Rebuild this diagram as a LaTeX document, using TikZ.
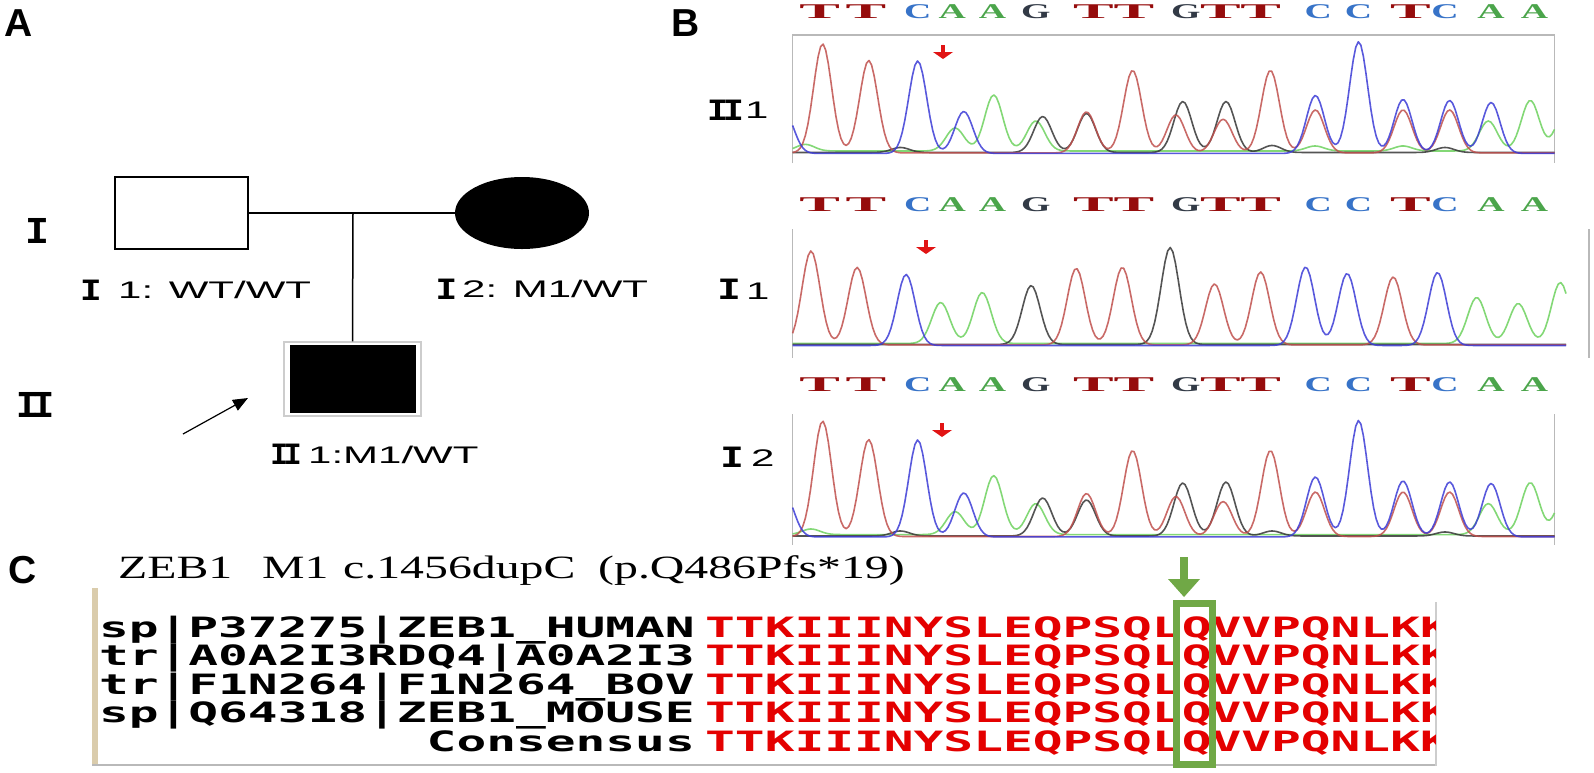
\documentclass[tikz,border=0pt]{standalone}
\usepackage{graphicx}
\usepackage{fontspec}
\setmainfont{Liberation Sans}
\newfontfamily\romf{Liberation Mono}
\newfontfamily\serf{Liberation Serif}
\newfontfamily\monof{DejaVu Sans Mono}
\usetikzlibrary{arrows.meta,shapes.geometric}
\definecolor{trR}{RGB}{192,80,77}
\definecolor{trB}{RGB}{60,60,215}
\definecolor{trG}{RGB}{110,210,95}
\definecolor{trK}{RGB}{55,55,55}
\definecolor{ntT}{RGB}{150,12,12}
\definecolor{ntC}{RGB}{55,115,200}
\definecolor{ntA}{RGB}{75,165,75}
\definecolor{ntG}{RGB}{50,58,70}
\definecolor{framec}{RGB}{185,185,185}
\definecolor{seqred}{RGB}{228,0,0}
\definecolor{qgreen}{RGB}{112,168,70}
\definecolor{tanc}{RGB}{218,204,172}
\definecolor{ltgray}{RGB}{205,205,205}
\definecolor{arrred}{RGB}{225,20,20}
\newcommand{\wid}[1]{\scalebox{1.75}[1]{#1}}
\newcommand{\sw}[1]{\scalebox{1.767}[1]{#1}}
\newcommand{\tw}[1]{\scalebox{1.47}[1]{#1}}
\newcommand{\RI}{I}
\newcommand{\RII}{I\kern-0.15em I}
\tikzset{
  declare function={gs(\gsu,\gsh)=\gsh*exp(-min(\gsu*\gsu/2,9));
                    pk(\pkx,\pkc,\pkh)=gs((\pkx-\pkc)/9,\pkh);},
  panel/.style={font=\fontsize{39}{39}\selectfont\bfseries, inner sep=0, anchor=base west},
  lab/.style={font=\fontsize{24}{24}\selectfont, inner sep=0, anchor=base west},
  numr/.style={font=\romf\bfseries\fontsize{31}{31}\selectfont, inner sep=0},
  gen/.style={font=\romf\bfseries\fontsize{38}{38}\selectfont, inner sep=0},
  ped/.style={line width=1.5pt},
  frameline/.style={draw=framec, line width=1.3pt},
  trace/.style={line width=1.6pt, opacity=0.85, line join=round},
  ntl/.style={font=\serf\bfseries\fontsize{21}{21}\selectfont, inner sep=0, anchor=base},
  seq/.style={font=\monof\bfseries\fontsize{28}{28}\selectfont, inner sep=0, anchor=base west, text=seqred},
  seqlab/.style={font=\monof\bfseries\fontsize{28}{28}\selectfont, inner sep=0, anchor=base east},
  ttl/.style={font=\serf\fontsize{32.5}{32.5}\selectfont, inner sep=0, anchor=base west},
}
\begin{document}
\begin{tikzpicture}[x=1pt,y=-1pt]
\useasboundingbox (0,0) rectangle (1594,772);
\fill[white] (0,0) rectangle (1594,772);

% panel letters
\node[panel] (pA) at (4,36) {A};
\node[panel] (pB) at (671,36) {B};
\node[panel] (pC) at (8,583) {C};

% ---------- Pedigree ----------
\node[draw, line width=2.5pt, minimum width=133pt, minimum height=72pt, inner sep=0] (p1) at (181.5,213) {};
\node[ellipse, fill=black, minimum width=134pt, minimum height=72pt, inner sep=0] (p2) at (522,213) {};
\node[draw=ltgray, line width=1.5pt, minimum width=137pt, minimum height=74pt, inner sep=0] (c1f) at (352.5,379) {};
\node[fill=black, minimum width=126pt, minimum height=68pt, inner sep=0] (c1) at (353,379) {};
\coordinate (m) at (353,213);
\draw[ped] (p1.east) -- (p2.west);
\draw[ped] (m) -- (c1f.north);
\coordinate (pa) at (183,434);
\coordinate (pb) at (248,398);
\draw[line width=1.2pt, -{Triangle[length=15pt,width=12pt]}] (pa) -- (pb);

\node[gen] (gI) at (37,231) {\scalebox{1.05}[1]{\RI}};
\node[gen] (gII) at (35.5,405) {\scalebox{0.97}[1]{\RII}};

\node[numr] (n11) at (91,290) {\scalebox{1.16}[1]{\RI}};
\node[lab] (t11) at (118,298) {\wid{1: WT/WT}};
\node[numr] (n12) at (446.5,289.5) {\scalebox{1.16}[1]{\RI}};
\node[lab] (t12) at (462,297) {\wid{2: M1/WT}};
\node[numr] (n21) at (286,454) {\scalebox{0.96}[1]{\RII}};
\node[lab] (t21) at (308,463) {\wid{1:M1/WT}};

% ---------- Panel B ----------
\node[numr] (bn1) at (725.5,110) {\scalebox{1.13}[1]{\RII}};
\node[lab] (bt1) at (745,118) {\wid{1}};
\node[numr] (bn2) at (729,289) {\scalebox{1.26}[1]{\RI}};
\node[lab] (bt2) at (746,299) {\wid{1}};
\node[numr] (bn3) at (732,457) {\scalebox{1.26}[1]{\RI}};
\node[lab] (bt3) at (751,466) {\wid{2}};

% base letters
\foreach \yy [count=\r] in {18,211,391}{
  \foreach \xx/\ll/\ss [count=\i] in {819.7/T/2.9, 865.8/T/2.9, 917.7/C/1.8, 952.2/A/1.8, 992.6/A/1.8, 1035.8/G/1.8, 1093.5/T/2.9, 1133.8/T/2.9, 1185.7/G/1.8, 1220.3/T/2.9, 1260.6/T/2.9, 1318.2/C/1.8, 1358.6/C/1.8, 1410.5/T/2.9, 1445/C/1.8, 1491.1/A/1.8, 1534.4/A/1.8}
    \node[ntl, text=nt\ll] (nt\r-\i) at (\xx,\yy) {\scalebox{\ss}[1]{\ll}};
}

% frames
\draw[frameline] (792.6,163) -- (792.6,35) -- (1554.5,35) -- (1554.5,163);
\draw[frameline] (792.6,229) -- (792.6,358);
\draw[frameline] (1589,229) -- (1589,358);
\draw[frameline] (792.6,414) -- (792.6,545);
\draw[frameline] (1554.5,414) -- (1554.5,545);

% chart II1
\draw[trace, trG] plot[domain=792.6:1554.5, samples=300] (\x,{151-pk(\x,805.3,6.6)-pk(\x,955.1,23)-pk(\x,993.7,56)-pk(\x,1035.8,30)-pk(\x,1315,5)-pk(\x,1403,5)-pk(\x,1488.3,30)-pk(\x,1530.3,50.6)-pk(\x,1565,40)});
\draw[trace, trK] plot[domain=792.6:1554.5, samples=300] (\x,{152.5-pk(\x,900.4,5)-pk(\x,1042.7,36)-pk(\x,1086.5,39)-pk(\x,1182.8,51)-pk(\x,1226,51)-pk(\x,1272.1,7)-pk(\x,1445,5)});
\draw[trace, trR] plot[domain=792.6:1554.5, samples=300] (\x,{153-pk(\x,822.6,109)-pk(\x,868.7,92.5)-pk(\x,1086.5,41)-pk(\x,1132.6,82.6)-pk(\x,1175.9,38)-pk(\x,1223.1,33.7)-pk(\x,1270.4,82.6)-pk(\x,1315.4,43)-pk(\x,1403,43)-pk(\x,1449.6,43)});
\draw[trace, trB] plot[domain=792.6:1554.5, samples=300] (\x,{153.5-pk(\x,785,40)-pk(\x,917.7,92.5)-pk(\x,963.8,42)-pk(\x,1315.4,58)-pk(\x,1358.6,111.7)-pk(\x,1403,54)-pk(\x,1449.6,53)-pk(\x,1491.1,51)});

% chart I1
\draw[trace, trG] plot[domain=792.6:1566, samples=300] (\x,{343.5-pk(\x,940.7,41)-pk(\x,982.2,51)-pk(\x,1476.7,46)-pk(\x,1518.2,40)-pk(\x,1560.3,61)});
\draw[trace, trK] plot[domain=792.6:1566, samples=300] (\x,{344.5-pk(\x,1031.2,59)-pk(\x,1170.1,97)});
\draw[trace, trR] plot[domain=792.6:1566, samples=300] (\x,{345-pk(\x,811,94)-pk(\x,857.1,77.6)-pk(\x,1076.2,76.6)-pk(\x,1122.3,77.6)-pk(\x,1214.5,61)-pk(\x,1260.6,73)-pk(\x,1393.2,68)});
\draw[trace, trB] plot[domain=792.6:1566, samples=300] (\x,{345.5-pk(\x,906.1,71)-pk(\x,1305.6,78.5)-pk(\x,1347.1,72)-pk(\x,1437.5,73)});

% chart I2
\draw[trace, trG] plot[domain=792.6:1554.5, samples=300] (\x,{534.6-pk(\x,811,5.6)-pk(\x,955.1,23)-pk(\x,993.7,59)-pk(\x,1035.8,31)-pk(\x,1488.3,31)-pk(\x,1530.3,52)-pk(\x,1565,40)});
\draw[trace, trK] plot[domain=792.6:1554.5, samples=300] (\x,{536-pk(\x,900.4,5)-pk(\x,1042.7,38)-pk(\x,1086.5,36)-pk(\x,1182.8,53)-pk(\x,1226,54)-pk(\x,1272.1,5)-pk(\x,1445,4)});
\draw[trace, trR] plot[domain=792.6:1554.5, samples=300] (\x,{536.6-pk(\x,822.6,115.5)-pk(\x,868.7,97)-pk(\x,1086.5,43)-pk(\x,1132.6,86)-pk(\x,1175.9,40)-pk(\x,1223.1,35)-pk(\x,1270.4,86)-pk(\x,1315.4,44.5)-pk(\x,1403,44.5)-pk(\x,1449.6,44.5)});
\draw[trace, trB] plot[domain=792.6:1554.5, samples=300] (\x,{537-pk(\x,785,42)-pk(\x,917.7,97)-pk(\x,963.8,44)-pk(\x,1315.4,60)-pk(\x,1358.6,116.5)-pk(\x,1403,56)-pk(\x,1449.6,55)-pk(\x,1491.1,53.5)});

% red arrows
\foreach \ax/\ay [count=\i] in {943/45, 926/240, 942/423}{
  \coordinate (ra\i) at (\ax,\ay);
  \fill[arrred] ([xshift=-1.8pt]ra\i) rectangle ([xshift=1.8pt,yshift=-8pt]ra\i);
  \fill[arrred] ([xshift=-10pt,yshift=-7pt]ra\i) -- ([xshift=10pt,yshift=-7pt]ra\i) -- ([yshift=-14pt]ra\i) -- cycle;
}

% ---------- Panel C ----------
\node[ttl] (ti1) at (118,578) {\tw{ZEB1}};
\node[ttl] (ti2) at (262,578) {\tw{M1}};
\node[ttl] (ti3) at (343,578) {\tw{c.1456dupC}};
\node[ttl] (ti4) at (598,578) {\tw{(p.Q486Pfs*19)}};

\draw[tanc, line width=6pt] (95,588) -- (95,765);
\draw[framec, line width=2pt] (92,765) -- (1436,765);
\draw[ltgray, line width=1.5pt] (1436,602) -- (1436,766);

\node[seqlab] (l1) at (695,637) {\sw{sp|P37275|ZEB1\_HUMAN}};
\node[seqlab] (l2) at (695,665) {\sw{tr|A0A2I3RDQ4|A0A2I3}};
\node[seqlab] (l3) at (695,694) {\sw{tr|F1N264|F1N264\_BOV}};
\node[seqlab] (l4) at (695,722) {\sw{sp|Q64318|ZEB1\_MOUSE}};
\node[seqlab] (l5) at (695,751) {\sw{Consensus}};

\begin{scope}
\clip (700,590) rectangle (1435.2,770);
\foreach \yy [count=\i] in {637,665,694,722,751}
  \node[seq] (sq\i) at (705,\yy) {\sw{TTKIIINYSLEQPSQLQVVPQNLKK}};
\end{scope}

\node[draw=qgreen, line width=7pt, minimum width=36pt, minimum height=161pt, inner sep=0] (qbox) at (1194.5,684) {};
\coordinate (ga) at (1184,557);
\fill[qgreen] ([xshift=-4pt]ga) rectangle ([xshift=4pt,yshift=-23pt]ga);
\fill[qgreen] ([xshift=-16pt,yshift=-22pt]ga) -- ([xshift=16pt,yshift=-22pt]ga) -- ([yshift=-40pt]ga) -- cycle;
\end{tikzpicture}
\end{document}
